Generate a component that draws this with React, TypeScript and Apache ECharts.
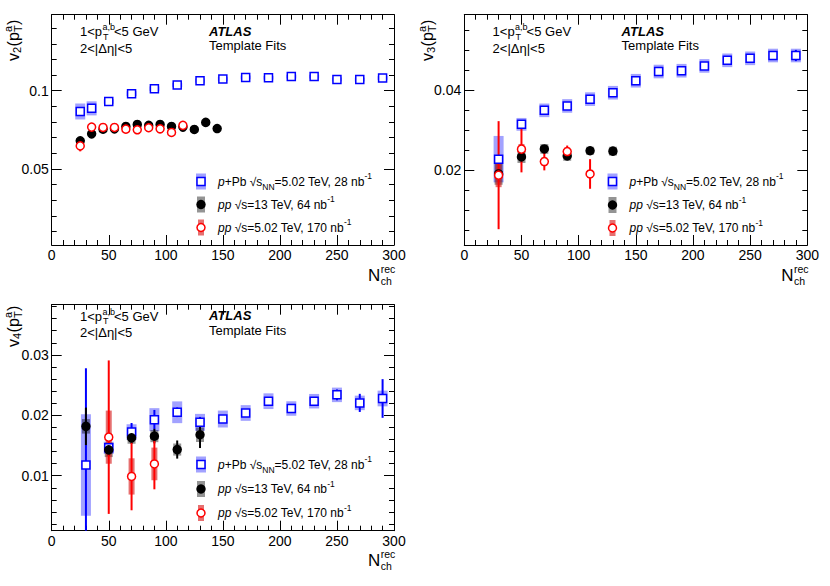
import React, { useEffect, useRef } from "react";
import * as echarts from "echarts";

const FONT = '"Liberation Sans", Arial, Helvetica, sans-serif';

// ---------------- data ----------------
// x axis (N_ch^rec)
const xMin = 0;
const xMax = 300;
const xMajorStep = 50;

// v2 panel
const v2PPbN = [25, 35, 50, 70, 90, 110, 130, 150, 170, 190, 210, 230, 250, 270, 290];
const v2PPbVal = [0.0867, 0.0887, 0.0931, 0.0981, 0.1013, 0.1037, 0.1064, 0.1075, 0.1085, 0.1083, 0.109, 0.109, 0.1072, 0.1071, 0.1081];
const v2PPbStat = [0.0008, 0.0007, 0.0005, 0.0005, 0.0005, 0.0005, 0.0005, 0.0005, 0.0005, 0.0005, 0.0005, 0.0005, 0.0005, 0.0005, 0.0006];
const v2PPbSys = [0.0051, 0.0045, 0.0015, 0.0015, 0.0014, 0.0013, 0.0013, 0.0012, 0.0012, 0.0012, 0.0012, 0.0012, 0.0012, 0.0012, 0.0012];

const v2Pp13N = [25, 35, 45, 55, 65, 75, 85, 95, 105, 115, 125, 135, 145];
const v2Pp13Val = [0.0679, 0.0724, 0.0754, 0.0756, 0.0771, 0.0784, 0.0778, 0.0784, 0.0771, 0.0767, 0.0752, 0.0797, 0.0758];
const v2Pp13Stat = [0.0008, 0.0005, 0.0004, 0.0004, 0.0004, 0.0004, 0.0004, 0.0004, 0.0005, 0.0005, 0.0005, 0.0006, 0.0006];
const v2Pp13Sys = [0.001, 0.0009, 0.0008, 0.0008, 0.0008, 0.0008, 0.0008, 0.0008, 0.0008, 0.0008, 0.0008, 0.0008, 0.0008];

const v2Pp5N = [25, 35, 45, 55, 65, 75, 85, 95, 105, 115];
const v2Pp5Val = [0.0647, 0.0767, 0.0765, 0.0765, 0.0754, 0.075, 0.0763, 0.0756, 0.0733, 0.0778];
const v2Pp5Stat = [0.0035, 0.0008, 0.0006, 0.0006, 0.0006, 0.0006, 0.0006, 0.0006, 0.0007, 0.0009];
const v2Pp5Sys = [0.0012, 0.0008, 0.0008, 0.0008, 0.0008, 0.0008, 0.0008, 0.0008, 0.0008, 0.0008];

const v2YLabels = [0.05, 0.1];
const v2YMinor = [0.01, 0.02, 0.03, 0.04, 0.06, 0.07, 0.08, 0.09, 0.11, 0.12, 0.13, 0.14];

// v3 panel
const v3PPbN = [30, 50, 70, 90, 110, 130, 150, 170, 190, 210, 230, 250, 270, 290];
const v3PPbVal = [0.0227, 0.0314, 0.0349, 0.036, 0.0377, 0.0393, 0.0423, 0.0446, 0.0448, 0.046, 0.0474, 0.0479, 0.0486, 0.0486];
const v3PPbStat = [0.0008, 0.0006, 0.0005, 0.0005, 0.0005, 0.0005, 0.0005, 0.0005, 0.0005, 0.0005, 0.0005, 0.0006, 0.0008, 0.0014];
const v3PPbSys = [0.0058, 0.0016, 0.0017, 0.0017, 0.0017, 0.0017, 0.0017, 0.0017, 0.0017, 0.0017, 0.0017, 0.0017, 0.0017, 0.0017];

const v3Pp13N = [30, 50, 70, 90, 110, 130];
const v3Pp13Val = [0.019, 0.02325, 0.02525, 0.0235, 0.0248, 0.0247];
const v3Pp13Stat = [0.0012, 0.0008, 0.0008, 0.0008, 0.0007, 0.0009];
const v3Pp13Sys = [0.0027, 0.0015, 0.0012, 0.0012, 0.001, 0.0011];

const v3Pp5N = [30, 50, 70, 90, 110];
const v3Pp5Val = [0.0187, 0.0252, 0.0221, 0.0246, 0.019];
const v3Pp5Stat = [0.0135, 0.0058, 0.0022, 0.0015, 0.0037];
const v3Pp5Sys = [0.003, 0.0013, 0.001, 0.001, 0.001];

const v3YLabels = [0.02, 0.04];
const v3YMinor = [0.005, 0.01, 0.015, 0.025, 0.03, 0.035, 0.045, 0.05, 0.055];

// v4 panel
const v4PPbN = [30, 50, 70, 90, 110, 130, 150, 170, 190, 210, 230, 250, 270, 290];
const v4PPbVal = [0.01178, 0.01462, 0.01722, 0.01928, 0.0205, 0.01883, 0.01938, 0.02038, 0.02233, 0.02112, 0.02233, 0.02338, 0.02205, 0.02278];
const v4PPbStat = [0.016, 0.0008, 0.0015, 0.0016, 0.0008, 0.0009, 0.0006, 0.0006, 0.0006, 0.0006, 0.0006, 0.0009, 0.0015, 0.0032];
const v4PPbSys = [0.0084, 0.001, 0.0013, 0.0019, 0.0018, 0.0014, 0.0014, 0.0013, 0.0013, 0.0012, 0.0012, 0.0012, 0.0012, 0.0013];

const v4Pp13N = [30, 50, 70, 90, 110, 130];
const v4Pp13Val = [0.01817, 0.01428, 0.01628, 0.01655, 0.01433, 0.01678];
const v4Pp13Stat = [0.0031, 0.001, 0.001, 0.0012, 0.0015, 0.0022];
const v4Pp13Sys = [0.0012, 0.0012, 0.001, 0.001, 0.001, 0.0012];

const v4Pp5N = [50, 70, 90];
const v4Pp5Val = [0.01638, 0.00988, 0.01195];
const v4Pp5Stat = [0.0127, 0.0056, 0.0042];
const v4Pp5Sys = [0.0044, 0.003, 0.0027];

const v4YLabels = [0.01, 0.02, 0.03];
const v4YMinor = [0.002, 0.004, 0.006, 0.008, 0.012, 0.014, 0.016, 0.018, 0.022, 0.024, 0.026, 0.028, 0.032, 0.034, 0.036, 0.038];

// ---------------- layout ----------------
const PANELS = [
  {
    left: 51.7, top: 14.7, width: 342.3, height: 230.3, ymin: 0.0013, ymax: 0.1486,
    yLabels: v2YLabels, yMinor: v2YMinor, order: "2",
    sets: [
      { key: "pPb", N: v2PPbN, v: v2PPbVal, st: v2PPbStat, sy: v2PPbSys },
      { key: "pp13", N: v2Pp13N, v: v2Pp13Val, st: v2Pp13Stat, sy: v2Pp13Sys },
      { key: "pp5", N: v2Pp5N, v: v2Pp5Val, st: v2Pp5Stat, sy: v2Pp5Sys },
    ],
    titleX: 13, titleY: 61, annY: [31.5, 48], atlasY: [31, 45], legX: 201, legY: [181.5, 204.5, 227.5],
  },
  {
    left: 464.3, top: 14.7, width: 343, height: 230.3, ymin: 0.00125, ymax: 0.0588,
    yLabels: v3YLabels, yMinor: v3YMinor, order: "3",
    sets: [
      { key: "pPb", N: v3PPbN, v: v3PPbVal, st: v3PPbStat, sy: v3PPbSys },
      { key: "pp13", N: v3Pp13N, v: v3Pp13Val, st: v3Pp13Stat, sy: v3Pp13Sys },
      { key: "pp5", N: v3Pp5N, v: v3Pp5Val, st: v3Pp5Stat, sy: v3Pp5Sys },
    ],
    titleX: 427, titleY: 61, annY: [31.5, 48], atlasY: [31, 45], legX: 612.5, legY: [181.5, 205, 228],
  },
  {
    left: 51.7, top: 304.7, width: 342.3, height: 226, ymin: 0.0009, ymax: 0.0383,
    yLabels: v4YLabels, yMinor: v4YMinor, order: "4",
    sets: [
      { key: "pPb", N: v4PPbN, v: v4PPbVal, st: v4PPbStat, sy: v4PPbSys },
      { key: "pp13", N: v4Pp13N, v: v4Pp13Val, st: v4Pp13Stat, sy: v4Pp13Sys },
      { key: "pp5", N: v4Pp5N, v: v4Pp5Val, st: v4Pp5Stat, sy: v4Pp5Sys },
    ],
    titleX: 13, titleY: 347, annY: [316, 332.7], atlasY: [315, 330], legX: 201, legY: [464.5, 489, 513],
  },
];

const STY: Record<string, any> = {
  pPb: { band: "rgba(70,70,255,0.5)", bandW: 10, line: "#0000ff", symbol: "rect", size: 8, fill: "#ffffff", border: "#0000ff" },
  pp13: { band: "rgba(0,0,0,0.42)", bandW: 8, line: "#000000", symbol: "circle", size: 8, fill: "#000000", border: "#000000" },
  pp5: { band: "rgba(215,25,25,0.62)", bandW: 6, line: "#ff0000", symbol: "circle", size: 8, fill: "#ffffff", border: "#ff0000" },
};

const fmt = (v: number) => String(parseFloat(Number(v).toFixed(4)));

function txt(text: string, x: number, y: number, size: number, extra: any = {}) {
  return {
    type: "text", x, y, silent: true,
    style: { text, fontSize: size, fontFamily: FONT, fill: "#000", verticalAlign: "middle", align: "left", ...extra },
  };
}

function buildOption() {
  const grid: any[] = [];
  const xAxis: any[] = [];
  const yAxis: any[] = [];
  const series: any[] = [];
  const elements: any[] = [];

  const lineStyle = { color: "#000", width: 1 };

  PANELS.forEach((p, pi) => {
    grid.push({ left: p.left, top: p.top, width: p.width, height: p.height, show: false });
    // x axes: bottom (labels) + top mirror
    ["bottom", "top"].forEach((pos) => {
      xAxis.push({
        gridIndex: pi, type: "value", position: pos, min: xMin, max: xMax, interval: xMajorStep,
        axisLine: { show: true, onZero: false, lineStyle },
        axisTick: { show: true, inside: true, length: 10, lineStyle },
        minorTick: { show: true, splitNumber: 5, length: 5, lineStyle },
        axisLabel: {
          show: pos === "bottom", margin: 3, color: "#000", fontSize: 14, fontFamily: FONT,
          showMinLabel: true, showMaxLabel: true,
        },
        splitLine: { show: false },
      });
    });
    // y axes: left major, left minor, right major, right minor
    ["left", "right"].forEach((pos) => {
      yAxis.push({
        gridIndex: pi, type: "value", position: pos, min: p.ymin, max: p.ymax,
        axisLine: { show: true, onZero: false, lineStyle },
        axisTick: { show: true, inside: true, length: 10, lineStyle, customValues: p.yLabels },
        axisLabel: {
          show: pos === "left", customValues: p.yLabels, formatter: fmt, margin: 3,
          color: "#000", fontSize: 14, fontFamily: FONT,
        },
        splitLine: { show: false },
      });
      yAxis.push({
        gridIndex: pi, type: "value", position: pos, min: p.ymin, max: p.ymax,
        axisLine: { show: false, onZero: false },
        axisTick: { show: true, inside: true, length: 5, lineStyle, customValues: p.yMinor },
        axisLabel: { show: false },
        splitLine: { show: false },
      });
    });

    const xi = pi * 2;
    const yi = pi * 4;
    const layers: any[][] = [[], [], []];
    p.sets.forEach((s) => {
      const st = STY[s.key];
      const sysData = s.N.map((n, i) => [n, s.v[i], s.sy[i]]);
      const statData = s.N.map((n, i) => [n, s.v[i], s.st[i]]);
      layers[0].push({
        type: "custom", xAxisIndex: xi, yAxisIndex: yi, z: 2, silent: true,
        data: sysData, encode: { x: 0, y: 1 },
        renderItem: (params: any, api: any) => {
          const x = api.value(0), y = api.value(1), e = api.value(2);
          const a = api.coord([x, y - e]);
          const b = api.coord([x, y + e]);
          const cs = params.coordSys;
          const t = Math.max(Math.min(a[1], b[1]), cs.y);
          const bt = Math.min(Math.max(a[1], b[1]), cs.y + cs.height);
          return { type: "rect", shape: { x: a[0] - st.bandW / 2, y: t, width: st.bandW, height: Math.max(bt - t, 0) }, style: { fill: st.band } };
        },
      });
      layers[1].push({
        type: "custom", xAxisIndex: xi, yAxisIndex: yi, z: 3, silent: true,
        data: statData, encode: { x: 0, y: 1 },
        renderItem: (params: any, api: any) => {
          const x = api.value(0), y = api.value(1), e = api.value(2);
          const a = api.coord([x, y - e]);
          const b = api.coord([x, y + e]);
          const cs = params.coordSys;
          const t = Math.max(Math.min(a[1], b[1]), cs.y);
          const bt = Math.min(Math.max(a[1], b[1]), cs.y + cs.height);
          return { type: "line", shape: { x1: a[0], y1: t, x2: a[0], y2: bt }, style: { stroke: st.line, lineWidth: 2 } };
        },
      });
      layers[2].push({
        type: "scatter", xAxisIndex: xi, yAxisIndex: yi, z: 4, silent: true,
        data: s.N.map((n, i) => [n, s.v[i]]),
        symbol: st.symbol, symbolSize: st.size,
        itemStyle: { color: st.fill, borderColor: st.border, borderWidth: 1.5, opacity: 1 },
      });
    });
    series.push(...layers[0], ...layers[1], ...layers[2]);

    // y title (rotated)
    elements.push({
      type: "group", x: p.titleX, y: p.titleY, rotation: Math.PI / 2, silent: true,
      children: [
        txt("v", 0, 0, 16), txt(p.order, 8, 4, 11), txt("(", 14.5, 0, 16), txt("p", 20, 0, 16),
        txt("a", 29, -5, 11), txt("T", 29, 5, 11), txt(")", 36, 0, 16),
      ],
    });
    // x title
    const right = p.left + p.width;
    const bottom = p.top + p.height;
    elements.push(txt("N", right - 26, bottom + 30, 17));
    elements.push(txt("rec", right - 13.3, bottom + 23.5, 10.5));
    elements.push(txt("ch", right - 13.3, bottom + 35.5, 10.5));

    // annotations
    const ax = p.left + 28.3;
    elements.push(txt("1<p", ax, p.annY[0], 13));
    elements.push(txt("a,b", ax + 22.5, p.annY[0] - 4.5, 9));
    elements.push(txt("T", ax + 23, p.annY[0] + 5, 9));
    elements.push(txt("<5 GeV", ax + 34, p.annY[0], 13));
    elements.push(txt("2<|Δη|<5", ax, p.annY[1], 13));
    const tx = p.left + 157.3;
    elements.push(txt("ATLAS", tx, p.atlasY[0], 13, { fontWeight: "bold", fontStyle: "italic" }));
    elements.push(txt("Template Fits", tx, p.atlasY[1], 13));

    // legend
    const rich = {
      n: { fontSize: 12, fontFamily: FONT, fill: "#000", lineHeight: 20 },
      i: { fontSize: 12, fontFamily: FONT, fill: "#000", lineHeight: 20, fontStyle: "italic" },
      sb: { fontSize: 8.5, fontFamily: FONT, fill: "#000", lineHeight: 11, verticalAlign: "bottom" },
      sp: { fontSize: 8.5, fontFamily: FONT, fill: "#000", lineHeight: 11, verticalAlign: "top" },
    };
    const legTexts = [
      "{i|p}{n|+Pb √}{n|s}{sb|NN}{n|=5.02 TeV, 28 nb}{sp|-1}",
      "{i|pp}{n| √s=13 TeV, 64 nb}{sp|-1}",
      "{i|pp}{n| √s=5.02 TeV, 170 nb}{sp|-1}",
    ];
    const legKeys = ["pPb", "pp13", "pp5"];
    legKeys.forEach((k, i) => {
      const st = STY[k];
      const mx = p.legX;
      const my = p.legY[i];
      elements.push({ type: "rect", silent: true, shape: { x: mx - st.bandW / 2, y: my - 8, width: st.bandW, height: 16 }, style: { fill: st.band } });
      if (st.symbol === "rect") {
        elements.push({ type: "rect", silent: true, shape: { x: mx - 4, y: my - 4, width: 8, height: 8 }, style: { fill: st.fill, stroke: st.border, lineWidth: 1.5 } });
      } else {
        elements.push({ type: "circle", silent: true, shape: { cx: mx, cy: my, r: 4 }, style: { fill: st.fill, stroke: st.border, lineWidth: 1.5 } });
      }
      elements.push({
        type: "text", silent: true, x: mx + 17, y: my,
        style: { text: legTexts[i], rich, fontSize: 12, fontFamily: FONT, fill: "#000", verticalAlign: "middle", align: "left" },
      });
    });
  });

  return {
    animation: false,
    backgroundColor: "#ffffff",
    grid, xAxis, yAxis, series,
    graphic: { elements },
  };
}

export default function App() {
  const ref = useRef<HTMLDivElement>(null);
  useEffect(() => {
    if (!ref.current) return;
    const chart = echarts.init(ref.current, undefined, { renderer: "svg", width: 830, height: 586 });
    chart.setOption(buildOption() as any);
    return () => chart.dispose();
  }, []);
  return (
    <div
      ref={ref}
      style={{ position: "absolute", left: 0, top: 0, width: 830, height: 586, background: "#fff" }}
    />
  );
}
